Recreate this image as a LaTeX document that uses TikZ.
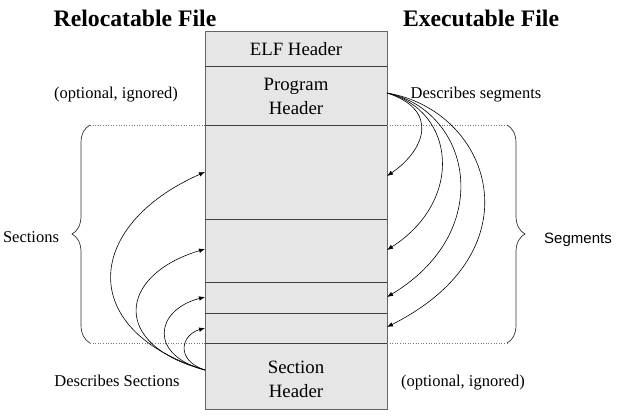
\documentclass[tikz,border=0pt]{standalone}
\usepackage{fontspec}
\setmainfont{Liberation Serif}
\newfontfamily\segfont{Liberation Sans}
\usetikzlibrary{arrows.meta,decorations.pathreplacing}
\definecolor{boxfill}{RGB}{230,230,230}
\definecolor{boxedge}{RGB}{100,100,100}
\definecolor{dotgray}{RGB}{120,120,120}
\begin{document}
\begin{tikzpicture}[x=1pt,y=-1pt,
  lbl/.style={font=\fontsize{16.5}{22}\selectfont, inner sep=0pt, align=center},
  inlbl/.style={font=\fontsize{18.8}{24}\selectfont, inner sep=0pt, align=center},
  ttl/.style={font=\fontsize{23.7}{26}\selectfont\bfseries, inner sep=0pt},
  part/.style={draw=boxedge, fill=boxfill, line width=0.9pt},
  sep/.style={draw=black!75, line width=0.8pt},
  conn/.style={draw=black, line width=0.6pt, -{Latex[length=6pt,width=4.5pt]}},
  dotline/.style={draw=dotgray, dotted, line width=0.6pt},
  bracepath/.style={draw=black!80, line width=0.7pt, decorate, decoration={brace, amplitude=18pt}}
]
\useasboundingbox (0,0) rectangle (617,415);

% main box
\path[part] (205,31.5) rectangle (387,409);
\draw[sep] (205,66) -- (387,66);
\draw[sep] (205,125) -- (387,125);
\draw[sep] (205,219) -- (387,219);
\draw[sep] (205,282) -- (387,282);
\draw[sep] (205,313) -- (387,313);
\draw[sep] (205,343) -- (387,343);

% texts
\node[ttl] (reloc) at (135,18) {Relocatable File};
\node[ttl] (exec) at (481,18) {Executable File};
\node[inlbl] (elf) at (296,49) {ELF Header};
\node[inlbl] (ph) at (296,96) {Program\\Header};
\node[inlbl] (sh) at (296,379) {Section\\Header};
\node[lbl] (optl) at (116,95) {(optional, ignored)};
\node[lbl] (descseg) at (476,95) {Describes segments};
\node[lbl] (descsec) at (117,381) {Describes Sections};
\node[lbl] (optr) at (463,383) {(optional, ignored)};
\node[lbl] (sections) at (31,237) {Sections};
\node[font=\segfont\fontsize{15}{18}\selectfont, inner sep=0pt] (segments) at (578,240) {Segments};

% braces with dotted leaders
\draw[dotline] (90,125) -- (205,125);
\draw[dotline] (90,343) -- (205,343);
\draw[dotline] (387,125) -- (507,125);
\draw[dotline] (387,343) -- (507,343);
\draw[bracepath] (90,343) -- (90,125);
\draw[bracepath] (507,125) -- (507,343);

% anchor coordinates
\coordinate (shs) at (205,370);
\coordinate (t1) at (205,172);
\coordinate (t2) at (205,249);
\coordinate (t3) at (205,297);
\coordinate (t4) at (205,328);
\coordinate (phs) at (387,93);
\coordinate (u1) at (387,176);
\coordinate (u2) at (387,250);
\coordinate (u3) at (387,297);
\coordinate (u4) at (387,327);

% section header arrows
\draw[conn] (shs) .. controls +(-130,-40) and +(-120,53) .. (t1);
\draw[conn] (shs) .. controls +(-95,-25) and +(-87,26) .. (t2);
\draw[conn] (shs) .. controls +(-57,-15) and +(-50,13) .. (t3);
\draw[conn] (shs) .. controls +(-30,-10) and +(-24,7) .. (t4);

% program header arrows
\draw[conn] (phs) .. controls +(53,17) and +(38,-26) .. (u1);
\draw[conn] (phs) .. controls +(68,17) and +(78,-50) .. (u2);
\draw[conn] (phs) .. controls +(83,17) and +(111,-67) .. (u3);
\draw[conn] (phs) .. controls +(103,17) and +(153,-77) .. (u4);
\end{tikzpicture}
\end{document}
